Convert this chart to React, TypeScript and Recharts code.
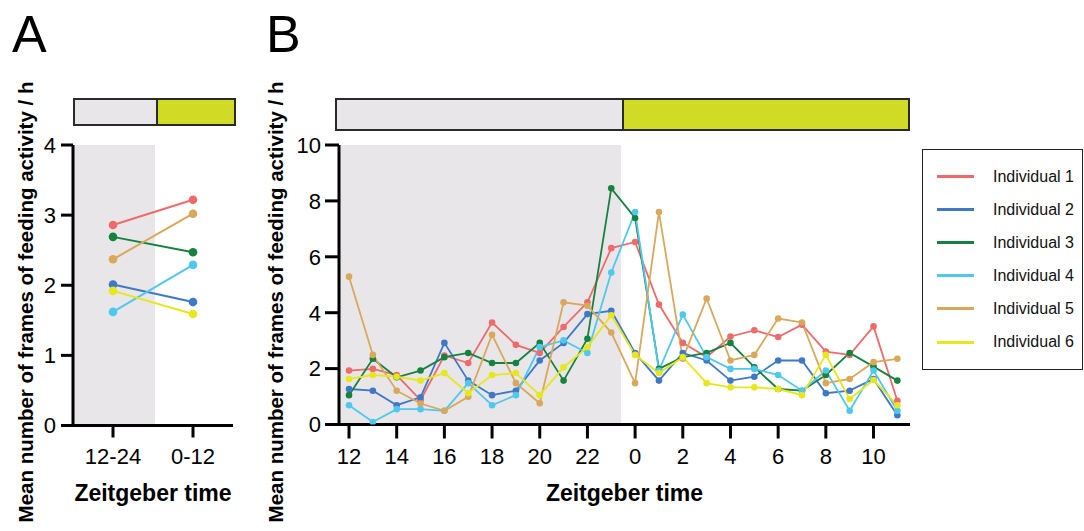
import React from 'react';
import { LineChart, Line, XAxis, YAxis, ReferenceArea, Label } from 'recharts';

const FONT = '"Liberation Sans", Arial, Helvetica, sans-serif';

const seriesNames = ['Individual 1', 'Individual 2', 'Individual 3', 'Individual 4', 'Individual 5', 'Individual 6'];
const seriesColors = ['#EF6B6B', '#3F78C6', '#16823F', '#4EC8EF', '#D9A85B', '#E8E61C'];

// Panel B: hourly values (Zeitgeber time 12 .. 23, 0 .. 11)
const hoursB = [12, 13, 14, 15, 16, 17, 18, 19, 20, 21, 22, 23, 0, 1, 2, 3, 4, 5, 6, 7, 8, 9, 10, 11];
const ind1B = [1.93, 1.99, 1.77, 0.87, 2.47, 2.2, 3.65, 2.85, 2.56, 3.49, 4.37, 6.31, 6.53, 4.29, 2.92, 2.41, 3.15, 3.37, 3.13, 3.57, 2.61, 2.49, 3.51, 0.85];
const ind2B = [1.27, 1.21, 0.69, 0.97, 2.92, 1.57, 1.05, 1.21, 2.29, 2.92, 3.95, 4.07, 2.56, 1.57, 2.56, 2.29, 1.57, 1.71, 2.29, 2.29, 1.12, 1.21, 1.63, 0.33];
const ind3B = [1.05, 2.35, 1.69, 1.93, 2.41, 2.56, 2.2, 2.2, 2.92, 1.57, 3.07, 8.45, 7.39, 1.99, 2.41, 2.56, 2.92, 2.05, 1.27, 1.21, 1.77, 2.56, 2.07, 1.57];
const ind4B = [0.69, 0.09, 0.55, 0.55, 0.49, 1.48, 0.69, 1.05, 2.77, 3.01, 2.56, 5.44, 7.6, 1.93, 3.93, 2.41, 1.99, 1.99, 1.77, 1.21, 1.93, 0.49, 1.93, 0.49];
const ind5B = [5.29, 2.49, 1.21, 0.75, 0.49, 0.99, 3.21, 1.48, 0.76, 4.37, 4.25, 3.29, 1.48, 7.6, 2.35, 4.51, 2.29, 2.49, 3.79, 3.65, 1.48, 1.63, 2.23, 2.35];
const ind6B = [1.63, 1.77, 1.71, 1.57, 1.84, 1.12, 1.77, 1.84, 1.05, 2.05, 2.77, 3.91, 2.49, 1.84, 2.41, 1.48, 1.33, 1.33, 1.27, 1.05, 2.49, 0.91, 1.59, 0.69];
const xTickIdxB = [0, 2, 4, 6, 8, 10, 12, 14, 16, 18, 20, 22];
const yTicksB = [0, 2, 4, 6, 8, 10];

// Panel A: 12 h means
const periodsA = ['12-24', '0-12'];
const ind1A = [2.86, 3.22];
const ind2A = [2.01, 1.76];
const ind3A = [2.69, 2.47];
const ind4A = [1.62, 2.29];
const ind5A = [2.37, 3.02];
const ind6A = [1.92, 1.59];
const yTicksA = [0, 1, 2, 3, 4];

const seriesB = [ind1B, ind2B, ind3B, ind4B, ind5B, ind6B];
const seriesA = [ind1A, ind2A, ind3A, ind4A, ind5A, ind6A];

const dataB = hoursB.map((h, i) => {
  const row: any = { i, hour: h };
  seriesB.forEach((s, k) => (row['s' + k] = s[i]));
  return row;
});
const dataA = periodsA.map((p, i) => {
  const row: any = { i, period: p };
  seriesA.forEach((s, k) => (row['s' + k] = s[i]));
  return row;
});

const NIGHT = '#E8E6E8';
const DAY = '#CFDB24';

const axisStyle = { stroke: '#000', strokeWidth: 3 };
const tickStyle = { fontSize: 22, fill: '#000', fontFamily: FONT };

const YLabel = ({ cx }: { cx: number }) => (
  <div
    style={{
      position: 'absolute',
      left: cx,
      top: 302,
      transform: 'translate(-50%, -50%) rotate(-90deg)',
      whiteSpace: 'nowrap',
      fontFamily: FONT,
      fontWeight: 'bold',
      fontSize: 20.5,
      lineHeight: 1,
      color: '#000',
    }}
  >
    Mean number of frames of feeding activity / h
  </div>
);

const LDBar = ({ left, top, width, height, split }: any) => (
  <div
    style={{
      position: 'absolute',
      left,
      top,
      width,
      height,
      boxSizing: 'border-box',
      border: '2px solid #2a2a2a',
      display: 'flex',
    }}
  >
    <div style={{ width: split, background: NIGHT, borderRight: '2px solid #2a2a2a', boxSizing: 'border-box' }} />
    <div style={{ flex: 1, background: DAY }} />
  </div>
);

export default function App() {
  return (
    <div
      style={{
        position: 'absolute',
        left: 0,
        top: 0,
        width: 1084,
        height: 531,
        background: '#fff',
        overflow: 'hidden',
        fontFamily: FONT,
      }}
    >
      <div style={{ position: 'absolute', left: 12, top: 8, fontSize: 52, lineHeight: 1, fontFamily: FONT }}>A</div>
      <div style={{ position: 'absolute', left: 266, top: 8, fontSize: 52, lineHeight: 1, fontFamily: FONT }}>B</div>

      <LDBar left={73} top={98} width={163} height={28} split={83} />
      <LDBar left={335} top={98} width={575} height={33} split={287} />

      <YLabel cx={25.5} />
      <YLabel cx={275.5} />

      {/* Panel A */}
      <div style={{ position: 'absolute', left: 0, top: 0 }}>
        <LineChart width={260} height={531} data={dataA} margin={{ top: 145, right: 27, bottom: 75.5, left: 13 }}>
          <ReferenceArea x1={-0.5} x2={0.525} y1={0} y2={4} fill={NIGHT} fillOpacity={1} stroke="none" ifOverflow="visible" />
          <XAxis
            dataKey="i"
            type="number"
            domain={[-0.5, 1.5]}
            ticks={[0, 1]}
            tickFormatter={(v: number) => periodsA[v]}
            allowDataOverflow
            axisLine={axisStyle}
            tickLine={axisStyle}
            tickSize={12}
            tickMargin={11}
            tick={tickStyle}
            height={30}
          >
            <Label value="Zeitgeber time" position="bottom" offset={29} style={{ fontSize: 23, fontWeight: 'bold', fill: '#000', fontFamily: FONT }} />
          </XAxis>
          <YAxis
            type="number"
            domain={[0, 4]}
            ticks={yTicksA}
            allowDataOverflow
            axisLine={axisStyle}
            tickLine={axisStyle}
            tickSize={12}
            tickMargin={5}
            tick={tickStyle}
            width={60}
          />
          {seriesNames.map((n, k) => (
            <Line
              key={n}
              name={n}
              dataKey={'s' + k}
              stroke={seriesColors[k]}
              strokeWidth={2}
              dot={{ r: 4.3, fill: seriesColors[k], stroke: seriesColors[k], strokeWidth: 0 }}
              isAnimationActive={false}
            />
          ))}
        </LineChart>
      </div>

      {/* Panel B */}
      <div style={{ position: 'absolute', left: 260, top: 0 }}>
        <LineChart width={824} height={531} data={dataB} margin={{ top: 145, right: 174, bottom: 76.5, left: 19 }}>
          <ReferenceArea x1={-0.42} x2={11.41} y1={0} y2={10} fill={NIGHT} fillOpacity={1} stroke="none" ifOverflow="visible" />
          <XAxis
            dataKey="i"
            type="number"
            domain={[-0.42, 23.53]}
            ticks={xTickIdxB}
            tickFormatter={(v: number) => String(hoursB[v])}
            allowDataOverflow
            axisLine={axisStyle}
            tickLine={axisStyle}
            tickSize={14}
            tickMargin={10}
            tick={tickStyle}
            height={30}
          >
            <Label value="Zeitgeber time" position="bottom" offset={30} style={{ fontSize: 23, fontWeight: 'bold', fill: '#000', fontFamily: FONT }} />
          </XAxis>
          <YAxis
            type="number"
            domain={[0, 10]}
            ticks={yTicksB}
            allowDataOverflow
            axisLine={axisStyle}
            tickLine={axisStyle}
            tickSize={14}
            tickMargin={4}
            tick={tickStyle}
            width={60}
          />
          {seriesNames.map((n, k) => (
            <Line
              key={n}
              name={n}
              dataKey={'s' + k}
              stroke={seriesColors[k]}
              strokeWidth={1.8}
              dot={{ r: 3.3, fill: seriesColors[k], stroke: seriesColors[k], strokeWidth: 0 }}
              isAnimationActive={false}
            />
          ))}
        </LineChart>
      </div>

      {/* Legend */}
      <div
        style={{
          position: 'absolute',
          left: 922,
          top: 149,
          width: 161,
          height: 221,
          boxSizing: 'border-box',
          border: '1.5px solid #222',
          paddingTop: 10,
        }}
      >
        {seriesNames.map((n, k) => (
          <div key={n} style={{ height: 33.1, display: 'flex', alignItems: 'center' }}>
            <span style={{ display: 'inline-block', marginLeft: 14, width: 37, height: 3, background: seriesColors[k] }} />
            <span style={{ marginLeft: 19, fontSize: 16, fontFamily: FONT, color: '#111', whiteSpace: 'nowrap' }}>{n}</span>
          </div>
        ))}
      </div>
    </div>
  );
}
